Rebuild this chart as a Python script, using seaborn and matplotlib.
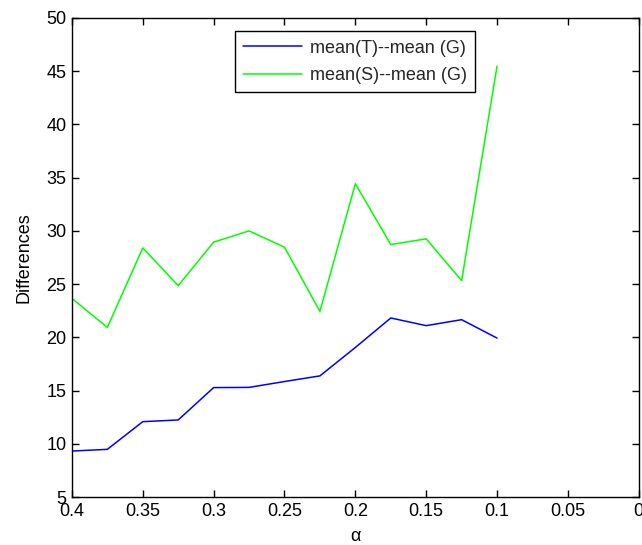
import matplotlib
matplotlib.use("Agg")
import matplotlib.pyplot as plt
import numpy as np
import pandas as pd
import seaborn as sns
from matplotlib.ticker import MultipleLocator

# alpha values (x) and the two difference series
alpha = [0.4, 0.375, 0.35, 0.325, 0.3, 0.275, 0.25, 0.225, 0.2, 0.175, 0.15, 0.125, 0.1]
diff_T = [9.32, 9.48, 12.08, 12.24, 15.28, 15.3, 15.85, 16.38, 19.05, 21.82, 21.1, 21.66, 19.93]
diff_S = [23.66, 20.93, 28.4, 24.86, 28.94, 30.0, 28.47, 22.44, 34.43, 28.72, 29.25, 25.33, 45.48]
labels = ["mean(T)--mean (G)", "mean(S)--mean (G)"]

df = pd.DataFrame({
    "alpha": alpha * 2,
    "value": diff_T + diff_S,
    "series": [labels[0]] * len(alpha) + [labels[1]] * len(alpha),
})

sns.set_theme(style="white")
plt.rcParams["font.family"] = ["Liberation Sans", "DejaVu Sans"]
plt.rcParams["axes.linewidth"] = 1.0
plt.rcParams["xtick.direction"] = "in"
plt.rcParams["ytick.direction"] = "in"

fig = plt.figure(figsize=(6.42, 5.45), dpi=100)
ax = fig.add_axes([0.112, 0.088, 0.883, 0.879])

sns.lineplot(data=df, x="alpha", y="value", hue="series",
             palette={labels[0]: "#0000ff", labels[1]: "#00ff00"},
             linewidth=1.1, ax=ax)

ax.set_xlim(0.4, 0)
ax.set_ylim(5, 50)
ax.xaxis.set_major_locator(MultipleLocator(0.05))
ax.yaxis.set_major_locator(MultipleLocator(5))
ax.xaxis.set_major_formatter(matplotlib.ticker.FuncFormatter(lambda v, p: f"{v:g}"))
ax.tick_params(which="major", direction="in", length=5, width=1, color="black",
               labelsize=13, labelcolor="black", left=True, bottom=True, right=True, top=True,
               pad=4)
for s in ax.spines.values():
    s.set_color("black")
    s.set_linewidth(1.0)

ax.set_xlabel("α", fontsize=13, color="black", labelpad=6)
ax.set_ylabel("Differences", fontsize=13, color="black", labelpad=10)

leg = ax.legend(loc="upper left", bbox_to_anchor=(0.287, 0.972), fontsize=13,
                frameon=True, fancybox=False, framealpha=1, edgecolor="black",
                handlelength=3.3, handletextpad=0.4, borderpad=0.45, labelspacing=0.6,
                borderaxespad=0)
leg.get_frame().set_linewidth(1.0)
leg.set_title(None)

fig.savefig("out.png", dpi=100)
